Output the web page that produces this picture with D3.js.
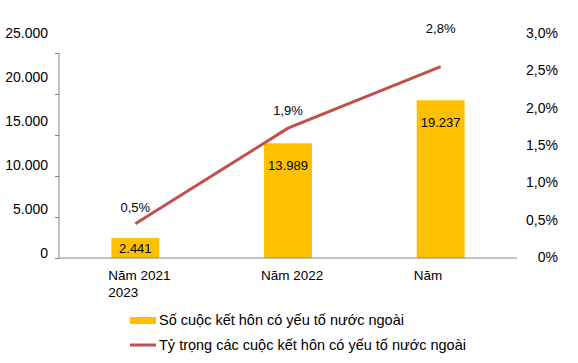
<!DOCTYPE html>
<html>
<head>
<meta charset="utf-8">
<script src="https://cdn.jsdelivr.net/npm/d3@7"></script>
<style>
  html, body { margin: 0; padding: 0; background: #fff; }
  svg { display: block; font-family: "Liberation Sans", Arial, sans-serif; }
</style>
</head>
<body>
<div id="app"></div>
<script>
// dữ liệu
const categories = ['Năm 2021', 'Năm 2022', 'Năm 2023']
const tickLines = [['Năm 2021', '2023'], ['Năm 2022'], ['Năm']]
const counts = [2441, 13989, 19237]
const shares = [0.5, 1.9, 2.8] // %
const leftTicks = [0, 5000, 10000, 15000, 20000, 25000]
const rightTicks = [0, 0.5, 1, 1.5, 2, 2.5, 3]
const legendLabels = [
  'Số cuộc kết hôn có yếu tố nước ngoài',
  'Tỷ trọng các cuộc kết hôn có yếu tố nước ngoài',
]

const W = 578, H = 363
const barColor = '#FFC000'
const lineColor = '#C0504D'
const axisColor = '#868686'

const vi = d3.formatLocale({ decimal: ',', thousands: '.', grouping: [3], currency: ['', ''] })
const fmtInt = vi.format(',.0f')
const fmtPct = (d) => (d === 0 ? '0%' : vi.format('.1f')(d) + '%')

const svg = d3.select('#app').append('svg').attr('width', W).attr('height', H)

const x = d3.scaleBand().domain(categories).range([59, 517]).paddingInner(0.686).paddingOuter(0.343)
const y = d3.scaleLinear().domain([0, 25000]).range([258, 53])
const y2 = d3.scaleLinear().domain([0, 3]).range([258, 53])
// nhãn trục lệch so với vạch chia (giống ảnh gốc)
const yLab = d3.scaleLinear().domain([0, 25000]).range([253, 33])
const y2Lab = d3.scaleLinear().domain([0, 3]).range([257, 33])

// trục trái: vạch chia
svg.append('g')
  .attr('transform', 'translate(59,0)')
  .call(d3.axisLeft(y).tickValues(leftTicks).tickSize(4).tickFormat(''))
  .call((g) => g.selectAll('path,line').attr('stroke', axisColor))
  .call((g) => g.select('.domain').attr('d', 'M0,53V258'))

// trục trái: nhãn
svg.append('g')
  .attr('transform', 'translate(48,0)')
  .call(d3.axisLeft(yLab).tickValues(leftTicks).tickSize(0).tickPadding(0).tickFormat(fmtInt))
  .call((g) => g.select('.domain').remove())
  .call((g) => g.selectAll('text').attr('font-size', 14).attr('font-family', null).attr('fill', '#000'))

// trục phải: nhãn
svg.append('g')
  .attr('transform', 'translate(558,0)')
  .call(d3.axisLeft(y2Lab).tickValues(rightTicks).tickSize(0).tickPadding(0).tickFormat(fmtPct))
  .call((g) => g.select('.domain').remove())
  .call((g) => g.selectAll('text').attr('font-size', 14).attr('font-family', null).attr('fill', '#000'))

// cột
svg.append('g')
  .selectAll('rect')
  .data(counts)
  .join('rect')
  .attr('x', (d, i) => x(categories[i]))
  .attr('y', (d) => y(d))
  .attr('width', x.bandwidth())
  .attr('height', (d) => y(0) - y(d))
  .attr('fill', barColor)

// đường đáy
svg.append('line')
  .attr('x1', 59).attr('x2', 517)
  .attr('y1', y(0)).attr('y2', y(0))
  .attr('stroke', axisColor)

// nhãn cột
svg.append('g')
  .selectAll('text')
  .data(counts)
  .join('text')
  .attr('x', (d, i) => x(categories[i]) + x.bandwidth() / 2)
  .attr('y', (d) => Math.min(y(d) + 22, (y(d) + y(0)) / 2))
  .attr('dy', '0.35em')
  .attr('text-anchor', 'middle')
  .attr('font-size', 13)
  .text(fmtInt)

// đường tỷ trọng
const line = d3.line()
  .x((d, i) => x(categories[i]) + x.bandwidth() / 2)
  .y((d) => y2(d))

svg.append('path')
  .datum(shares)
  .attr('d', line)
  .attr('fill', 'none')
  .attr('stroke', lineColor)
  .attr('stroke-width', 3)

const lineLabelDy = [-16, -18, -38]
svg.append('g')
  .selectAll('text')
  .data(shares)
  .join('text')
  .attr('x', (d, i) => x(categories[i]) + x.bandwidth() / 2)
  .attr('y', (d, i) => y2(d) + lineLabelDy[i])
  .attr('dy', '0.35em')
  .attr('text-anchor', 'middle')
  .attr('font-size', 13)
  .text((d) => fmtPct(d))

// nhãn trục hoành
const xl = svg.append('g')
  .selectAll('text')
  .data(tickLines)
  .join('text')
  .attr('x', (d, i) => x(categories[i]) + x.bandwidth() / 2 - 27)
  .attr('y', 275)
  .attr('font-size', 13.5)
xl.selectAll('tspan')
  .data((d) => d)
  .join('tspan')
  .attr('x', function () { return this.parentNode.getAttribute('x') })
  .attr('y', (d, i) => 275 + i * 17)
  .attr('dy', '0.35em')
  .text((d) => d)

// chú thích
const legend = svg.append('g')
legend.append('rect')
  .attr('x', 130).attr('y', 317).attr('width', 26).attr('height', 7)
  .attr('fill', barColor)
legend.append('line')
  .attr('x1', 130).attr('x2', 156).attr('y1', 345).attr('y2', 345)
  .attr('stroke', lineColor).attr('stroke-width', 3)
legend.selectAll('text')
  .data(legendLabels)
  .join('text')
  .attr('x', 159)
  .attr('y', (d, i) => 320 + i * 25)
  .attr('dy', '0.35em')
  .attr('font-size', 14.5)
  .text((d) => d)
</script>
</body>
</html>
